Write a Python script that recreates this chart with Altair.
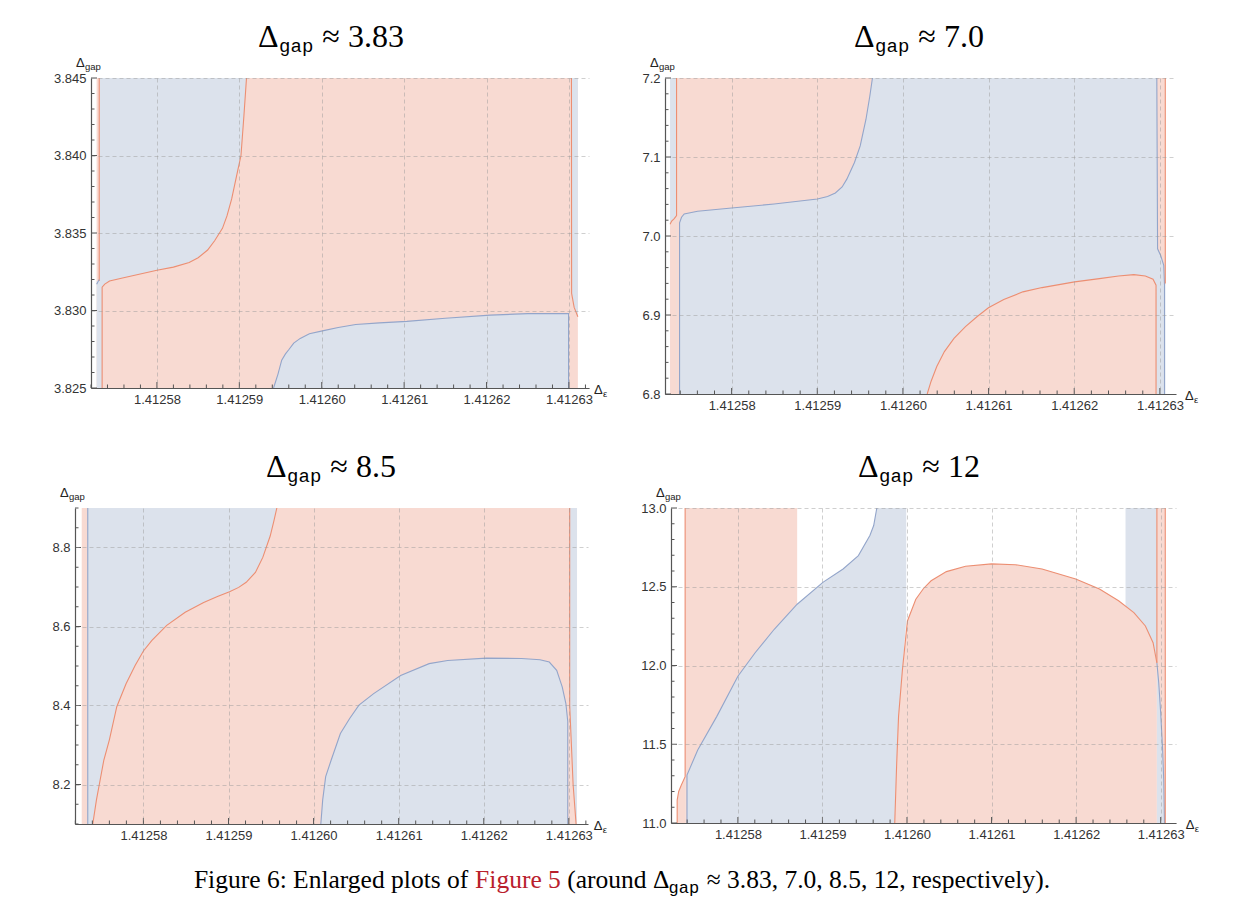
import math
import altair as alt
import pandas as pd

# ------------------------------------------------------------------
# x values are stored as offsets u:  x = 1.4125 + u * 1e-5
# ------------------------------------------------------------------
X_BASE = 1.4125
X_UNIT = 1e-5

RED_FILL = "#F8DAD2"
BLUE_FILL = "#DCE2EC"
RED_LINE = "#EC8E72"
BLUE_LINE = "#93A5CA"
AXIS_COL = "#555555"
LABEL_COL = "#333333"
GRID_COL = "#9a9a9a"
LINK_RED = "#B9202C"

X_TICKS = [1.41258, 1.41259, 1.41260, 1.41261, 1.41262, 1.41263]

# ---------------- Panel 1 : Δgap ≈ 3.83 ----------------
P1_TITLE = "3.83"
P1_XDOM = [7.200, 13.243]
P1_YDOM = [3.825, 3.845]
P1_YTICKS = [3.825, 3.830, 3.835, 3.840, 3.845]
P1_EDGE = [7.268, 13.108]
P1_UL_U = [7.300, 7.335, 7.367, 7.425, 7.582, 8.000, 8.200, 8.391, 8.500, 8.615, 8.700, 8.795, 8.850, 8.907, 8.975, 9.020, 9.056, 9.087]
P1_UL_Y = [3.8318, 3.8315, 3.8317, 3.8319, 3.8321, 3.8326, 3.8328, 3.8331, 3.8334, 3.8339, 3.8345, 3.8353, 3.8361, 3.8372, 3.8389, 3.8400, 3.8426, 3.8450]
P1_B_U = [9.415, 9.469, 9.514, 9.560, 9.604, 9.660, 9.739, 9.850, 10.022, 10.200, 10.412, 10.700, 11.032, 11.500, 12.043, 12.500, 12.995]
P1_B_Y = [3.8250, 3.8259, 3.8268, 3.8272, 3.8275, 3.8279, 3.8282, 3.8285, 3.8287, 3.8289, 3.8291, 3.8292, 3.8293, 3.8295, 3.8297, 3.8298, 3.8298]
P1_R_Y = [3.8296, 3.8302, 3.8311, 3.8450]
P1_R_U = [13.108, 13.063, 13.032, 13.030]
P1_STRIP_U = [7.268, 7.335]
P1_STRIP_Y = [3.825, 3.8319]

# ---------------- Panel 2 : Δgap ≈ 7.0 ----------------
P2_TITLE = "7.0"
P2_XDOM = [7.222, 13.188]
P2_YDOM = [6.8, 7.2]
P2_YTICKS = [6.8, 6.9, 7.0, 7.1, 7.2]
P2_EDGE = [7.281, 13.063]
P2_LL_U = [7.281, 7.300, 7.330, 7.357]
P2_LL_Y = [7.015, 7.019, 7.022, 7.026]
P2_LR_U = [7.357, 7.392]
P2_U_U = [7.392, 7.415, 7.446, 7.602, 8.000, 8.496, 9.001, 9.120, 9.211, 9.290, 9.345, 9.434, 9.501, 9.568, 9.613, 9.644]
P2_U_Y = [7.0166, 7.0237, 7.0279, 7.0313, 7.0355, 7.0405, 7.0468, 7.0500, 7.0544, 7.0620, 7.0720, 7.0930, 7.1140, 7.1475, 7.1769, 7.2000]
P2_D_U = [10.283, 10.328, 10.395, 10.484, 10.596, 10.730, 10.864, 10.998, 11.177, 11.400, 11.624, 12.004, 12.294, 12.517, 12.696, 12.830, 12.920, 12.955]
P2_D_Y = [6.8000, 6.8159, 6.8348, 6.8537, 6.8705, 6.8852, 6.8978, 6.9091, 6.9196, 6.9293, 6.9347, 6.9419, 6.9461, 6.9494, 6.9511, 6.9494, 6.9452, 6.9377]
P2_R_Y = [6.9377, 6.9629, 6.9754, 6.9838, 7.2000]
P2_R_U = [13.054, 13.045, 13.009, 12.973, 12.964]

# ---------------- Panel 3 : Δgap ≈ 8.5 ----------------
P3_TITLE = "8.5"
P3_XDOM = [7.196, 13.225]
P3_YDOM = [8.1, 8.9]
P3_YTICKS = [8.2, 8.4, 8.6, 8.8]
P3_EDGE = [7.275, 13.096]
P3_UL_U = [7.346, 7.405, 7.448, 7.492, 7.535, 7.600, 7.687, 7.796, 7.904, 8.000, 8.100, 8.274, 8.491, 8.708, 8.870, 9.012, 9.120, 9.208, 9.316, 9.403, 9.490, 9.533, 9.568]
P3_UL_Y = [8.100, 8.100, 8.161, 8.212, 8.262, 8.313, 8.397, 8.455, 8.502, 8.538, 8.565, 8.603, 8.636, 8.661, 8.676, 8.688, 8.699, 8.712, 8.737, 8.775, 8.829, 8.867, 8.900]
P3_B_U = [10.085, 10.107, 10.142, 10.207, 10.315, 10.424, 10.533, 10.706, 11.023, 11.358, 11.575, 12.031, 12.444, 12.661, 12.770, 12.857, 12.922, 12.965, 12.987]
P3_B_Y = [8.100, 8.161, 8.220, 8.262, 8.329, 8.367, 8.401, 8.430, 8.476, 8.506, 8.514, 8.520, 8.519, 8.516, 8.510, 8.489, 8.447, 8.405, 8.360]
P3_R_Y = [8.10, 8.20, 8.30, 8.40, 8.90]
P3_R_U = [13.085, 13.050, 13.030, 13.010, 13.010]

# ---------------- Panel 4 : Δgap ≈ 12 ----------------
P4_TITLE = "12"
P4_XDOM = [7.209, 13.181]
P4_YDOM = [11.0, 13.0]
P4_YTICKS = [11.0, 11.5, 12.0, 12.5, 13.0]
P4_LA_U = [7.282, 7.300, 7.330, 7.376]
P4_LA_Y = [11.145, 11.200, 11.240, 11.294]
P4_LB_U = [7.376, 7.398]
P4_RED_RECT_U = [7.398, 7.525, 7.751, 8.000, 8.204, 8.430, 8.701]
P4_RED_RECT_Y = [11.304, 11.464, 11.677, 11.932, 12.081, 12.230, 12.389]
P4_BL_U = [7.398, 7.525, 7.751, 8.000, 8.204, 8.430, 8.701, 9.005, 9.244, 9.425, 9.561, 9.606, 9.643, 9.855, 9.878, 9.900, 9.946, 9.991]
P4_BL_LO = [11.0, 11.0, 11.0, 11.0, 11.0, 11.0, 11.0, 11.0, 11.0, 11.0, 11.0, 11.0, 11.0, 11.0, 11.379, 11.677, 11.974, 12.283]
P4_BL_HI = [11.304, 11.464, 11.677, 11.932, 12.081, 12.230, 12.389, 12.528, 12.613, 12.698, 12.826, 12.889, 13.0, 13.0, 13.0, 13.0, 13.0, 13.0]
P4_DOME_U = [9.855, 9.878, 9.900, 9.946, 10.005, 10.104, 10.195, 10.285, 10.466, 10.692, 11.000, 11.281, 11.597, 11.995, 12.276, 12.502, 12.683, 12.819, 12.910, 12.955]
P4_DOME_Y = [11.000, 11.379, 11.677, 11.974, 12.283, 12.421, 12.489, 12.538, 12.596, 12.630, 12.645, 12.640, 12.613, 12.549, 12.485, 12.411, 12.336, 12.251, 12.145, 12.017]
P4_BS_U = [12.584, 12.683, 12.819, 12.910, 12.955]
P4_BS_Y = [12.377, 12.336, 12.251, 12.145, 12.017]
P4_RS_U = [12.955, 13.054]
P4_BC_Y = [11.000, 11.272, 11.464, 11.698, 11.889, 12.017]
P4_BC_U = [13.045, 13.036, 13.023, 13.000, 12.977, 12.955]

# caption pieces: (text, font, colour, gap after in em)
CAPTION = [
    ("Figure 6: Enlarged plots of", "serif", "black", 0.25),
    ("Figure 5", "serif", LINK_RED, 0.25),
    ("(around", "serif", "black", 0.25),
    ("\u0394", "serif", "black", 0.0),
    ("gap", "mono", "black", 0.3),
    ("\u2248 3.83, 7.0, 8.5, 12, respectively).", "serif", "black", 0.0),
]

# ------------------------------------------------------------------
SERIF = "Liberation Serif"
SANS = "Liberation Sans"
MONO = "Liberation Mono"

TIMES_W = {"F": .556, "i": .278, "g": .5, "u": .5, "r": .333, "e": .444, " ": .25, ":": .278,
           "E": .611, "n": .5, "l": .278, "a": .444, "d": .5, "p": .5, "o": .5, "t": .278,
           "s": .389, "f": .333, "(": .333, ")": .333, "\u0394": .612, "\u2248": .549, ".": .25,
           ",": .25, "c": .444, "v": .5, "y": .5}


def text_w(s, size, font):
    if font == "mono":
        return 0.6 * size * len(s)
    return sum(TIMES_W.get(ch, 0.5) for ch in s) * size


def xs(us):
    return [X_BASE + u * X_UNIT for u in us]


def arr(v, n):
    return list(v) if isinstance(v, (list, tuple)) else [v] * n


def grid_vals(lo, hi, step):
    n0 = math.ceil(lo / step - 1e-9)
    n1 = math.floor(hi / step + 1e-9)
    return [round(n * step, 6) for n in range(n0, n1 + 1)]


def build_panel(p):
    W, H = p["w"], p["h"]
    xdom = xs(p["xdom"])
    XE = alt.X("x:Q", scale=alt.Scale(domain=xdom, nice=False, zero=False),
               axis=alt.Axis(values=X_TICKS, format=".5f", grid=True, gridDash=[4, 3],
                             gridColor=GRID_COL, gridOpacity=0.6, gridWidth=0.8, ticks=False,
                             domainColor=AXIS_COL, domainWidth=1.2, labelFont=SANS,
                             labelFontSize=13, labelColor=LABEL_COL, labelPadding=5,
                             labelFlush=False, title=None, zindex=1))
    YE = alt.Y("y:Q", scale=alt.Scale(domain=p["ydom"], nice=False, zero=False),
               axis=alt.Axis(values=p["yticks"], format=p["yfmt"], grid=True, gridDash=[4, 3],
                             gridColor=GRID_COL, gridOpacity=0.6, gridWidth=0.8, ticks=False,
                             domainColor=AXIS_COL, domainWidth=1.2, labelFont=SANS,
                             labelFontSize=13, labelColor=LABEL_COL, labelPadding=5,
                             labelFlush=False, title=None, zindex=1))
    layers = []
    if p.get("bg"):
        e = p["edge"]
        df = pd.DataFrame({"x": [xs([e[0]])[0]], "x2": [xs([e[1]])[0]],
                           "y": [p["ydom"][0]], "y2": [p["ydom"][1]]})
        layers.append(alt.Chart(df).mark_rect(color=p["bg"]).encode(x=XE, x2="x2", y=YE, y2="y2"))
    for sh in p["shapes"]:
        kind, color = sh[0], sh[1]
        if kind == "rect":
            (u0, u1), (y0, y1) = sh[2], sh[3]
            df = pd.DataFrame({"x": xs([u0]), "x2": xs([u1]), "y": [y0], "y2": [y1]})
            layers.append(alt.Chart(df).mark_rect(color=color).encode(x=XE, x2="x2", y=YE, y2="y2"))
        elif kind == "v":
            u, lo, hi = sh[2], sh[3], sh[4]
            n = len(u)
            df = pd.DataFrame({"x": xs(u), "y": arr(lo, n), "y2": arr(hi, n)})
            layers.append(alt.Chart(df).mark_area(color=color, opacity=1, interpolate="linear")
                          .encode(x=XE, y=YE, y2="y2"))
        elif kind == "h":
            yv, lo, hi = sh[2], sh[3], sh[4]
            n = len(yv)
            df = pd.DataFrame({"y": yv, "x": xs(arr(lo, n)), "x2": xs(arr(hi, n))})
            layers.append(alt.Chart(df).mark_area(color=color, opacity=1, orient="horizontal",
                                                  interpolate="linear")
                          .encode(y=YE, x=XE, x2="x2"))
    for color, u, yv in p["lines"]:
        df = pd.DataFrame({"x": xs(u), "y": yv, "i": list(range(len(u)))})
        layers.append(alt.Chart(df).mark_line(color=color, strokeWidth=1.1)
                      .encode(x=XE, y=YE, order="i:Q"))

    # inward ticks (Mathematica style)
    ymaj = p["yticks"]
    ymin = [v for v in grid_vals(p["ydom"][0], p["ydom"][1], p["ystep"])
            if all(abs(v - m) > 1e-7 for m in ymaj)]
    xu_all = grid_vals(p["xdom"][0], p["xdom"][1], 0.2)
    xmaj = [u for u in xu_all if abs(u - round(u)) < 1e-6]
    xmin = [u for u in xu_all if abs(u - round(u)) >= 1e-6]
    for vals, ln in ((ymaj, 6), (ymin, 3.5)):
        df = pd.DataFrame({"y": vals})
        layers.append(alt.Chart(df).mark_rule(color=AXIS_COL, strokeWidth=1)
                      .encode(y=YE, x=alt.value(0), x2=alt.value(ln)))
    for vals, ln in ((xmaj, 6), (xmin, 3.5)):
        df = pd.DataFrame({"x": xs(vals)})
        layers.append(alt.Chart(df).mark_rule(color=AXIS_COL, strokeWidth=1)
                      .encode(x=XE, y=alt.value(H), y2=alt.value(H - ln)))

    def txt(t, x, y, font, size, color="black", align="left"):
        df = pd.DataFrame({"t": [t]})
        return alt.Chart(df).mark_text(font=font, fontSize=size, color=color, align=align,
                                       baseline="alphabetic").encode(
            x=alt.value(x), y=alt.value(y), text="t:N")

    # axis names
    last_tick_px = (13.0 - p["xdom"][0]) / (p["xdom"][1] - p["xdom"][0]) * W
    eps_x = max(W + 4, last_tick_px + 25)
    layers.append(txt("\u0394", -15, -11, SANS, 13, "#222"))
    layers.append(txt("gap", -6, -8, SANS, 9.5, "#222"))
    layers.append(txt("\u0394", eps_x, H + 6, SANS, 13, "#222"))
    layers.append(txt("\u03b5", eps_x + 9, H + 9, SANS, 9.5, "#222"))

    # title  Δ_gap ≈ value
    fs, fsub = 32, 19
    rest = "\u2248 " + p["title"]
    w_rest = text_w(rest, fs, "serif")
    w_gap = text_w("gap", fsub, "mono")
    d_off = 21
    total = d_off + w_gap + 9 + w_rest
    x0 = p["tc"] - total / 2
    ty = -31
    layers.append(txt("\u0394", x0, ty, SERIF, fs))
    layers.append(txt("gap", x0 + d_off, ty + 5, MONO, fsub))
    layers.append(txt(rest, x0 + d_off + w_gap + 9, ty, SERIF, fs))

    for extra in p.get("extra", []):
        layers.append(extra(txt))

    return alt.layer(*layers).properties(width=W, height=H)


def anchor(txt):
    df = pd.DataFrame({"t": [0]})
    return alt.Chart(df).mark_rule(color="white", strokeWidth=1).encode(
        x=alt.value(-82), x2=alt.value(-81), y=alt.value(-69), y2=alt.value(-68))


def caption_layers(txt):
    fs, fsub = 25.5, 17
    widths = []
    for s, f, c, g in CAPTION:
        widths.append(text_w(s, fsub if f == "mono" else fs, f) + g * fs)
    total = sum(widths)
    x = 547 - total / 2
    ch = []
    for (s, f, c, g), w in zip(CAPTION, widths):
        if f == "mono":
            ch.append(txt(s, x, 380 + 5, MONO, fsub, c))
        else:
            ch.append(txt(s, x, 380, SERIF, fs, c))
        x += w
    # keep room below the caption descenders
    df = pd.DataFrame({"t": [0]})
    ch.append(alt.Chart(df).mark_rule(color="white", strokeWidth=1).encode(
        x=alt.value(0), x2=alt.value(1), y=alt.value(398), y2=alt.value(399)))
    return alt.layer(*ch)


P1 = dict(w=498, h=310, xdom=P1_XDOM, ydom=P1_YDOM, yticks=P1_YTICKS, yfmt=".3f", ystep=0.001,
          edge=P1_EDGE, bg=RED_FILL, title=P1_TITLE, tc=240,
          shapes=[
              ("v", BLUE_FILL, P1_UL_U, P1_UL_Y, 3.845),
              ("rect", BLUE_FILL, P1_STRIP_U, P1_STRIP_Y),
              ("v", BLUE_FILL, P1_B_U, 3.825, P1_B_Y),
              ("h", BLUE_FILL, P1_R_Y, P1_R_U, P1_EDGE[1]),
          ],
          lines=[
              (RED_LINE, [7.300, 7.300], [3.845, 3.8319]),
              (RED_LINE, [7.335] + P1_UL_U[1:], [3.825] + P1_UL_Y[1:]),
              (BLUE_LINE, P1_B_U + [12.995], P1_B_Y + [3.825]),
              (RED_LINE, P1_R_U[::-1], P1_R_Y[::-1]),
              (BLUE_LINE, [7.268, 7.300], [3.8317, 3.8320]),
          ],
          extra=[anchor])

P2 = dict(w=511, h=316, xdom=P2_XDOM, ydom=P2_YDOM, yticks=P2_YTICKS, yfmt=".1f", ystep=0.02,
          edge=P2_EDGE, bg=BLUE_FILL, title=P2_TITLE, tc=254,
          shapes=[
              ("v", RED_FILL, P2_LL_U, 6.8, P2_LL_Y),
              ("rect", RED_FILL, P2_LR_U, (6.8, 7.2)),
              ("v", RED_FILL, P2_U_U, P2_U_Y, 7.2),
              ("v", RED_FILL, P2_D_U, 6.8, P2_D_Y),
              ("h", RED_FILL, P2_R_Y, P2_R_U, P2_EDGE[1]),
          ],
          lines=[
              (RED_LINE, [7.357] + P2_LL_U[::-1], [7.2] + P2_LL_Y[::-1]),
              (BLUE_LINE, [7.392] + P2_U_U, [6.8] + P2_U_Y),
              (RED_LINE, P2_D_U + [12.955], P2_D_Y + [6.8]),
              (BLUE_LINE, P2_R_U[::-1] + [13.054], P2_R_Y[::-1] + [6.8]),
              (RED_LINE, [13.063, 13.063], [7.2, 6.94]),
          ])

P3 = dict(w=513, h=316, xdom=P3_XDOM, ydom=P3_YDOM, yticks=P3_YTICKS, yfmt=".1f", ystep=0.05,
          edge=P3_EDGE, bg=RED_FILL, title=P3_TITLE, tc=256,
          shapes=[
              ("v", BLUE_FILL, P3_UL_U, P3_UL_Y, 8.9),
              ("v", BLUE_FILL, P3_B_U, 8.1, P3_B_Y),
              ("h", BLUE_FILL, P3_R_Y, P3_R_U, P3_EDGE[1]),
          ],
          lines=[
              (BLUE_LINE, [7.346, 7.346], [8.9, 8.1]),
              (RED_LINE, P3_UL_U[1:], P3_UL_Y[1:]),
              (BLUE_LINE, P3_B_U + [12.987], P3_B_Y + [8.1]),
              (RED_LINE, P3_R_U[::-1], P3_R_Y[::-1]),
          ],
          extra=[caption_layers])

P4 = dict(w=505, h=315, xdom=P4_XDOM, ydom=P4_YDOM, yticks=P4_YTICKS, yfmt=".1f", ystep=0.1,
          edge=None, bg=None, title=P4_TITLE, tc=248,
          shapes=[
              ("v", RED_FILL, P4_LA_U, 11.0, P4_LA_Y),
              ("rect", RED_FILL, P4_LB_U, (11.0, 13.0)),
              ("v", RED_FILL, P4_RED_RECT_U, P4_RED_RECT_Y, 13.0),
              ("v", BLUE_FILL, P4_BL_U, P4_BL_LO, P4_BL_HI),
              ("v", RED_FILL, P4_DOME_U, 11.0, P4_DOME_Y),
              ("v", BLUE_FILL, P4_BS_U, P4_BS_Y, 13.0),
              ("rect", RED_FILL, P4_RS_U, (11.0, 13.0)),
              ("h", BLUE_FILL, P4_BC_Y, P4_RS_U[0], P4_BC_U),
          ],
          lines=[
              (RED_LINE, [7.282] + P4_LA_U + [7.376], [11.0] + P4_LA_Y + [13.0]),
              (BLUE_LINE, [7.398] + P4_BL_U[:13], [11.0] + P4_BL_HI[:13]),
              (RED_LINE, P4_DOME_U, P4_DOME_Y),
              (BLUE_LINE, P4_BC_U[::-1], P4_BC_Y[::-1]),
              (RED_LINE, [12.955, 12.955], [13.0, 12.017]),
              (RED_LINE, [13.054, 13.054], [11.0, 13.0]),
          ])


def spacer(w, h):
    df = pd.DataFrame({"a": [0]})
    return alt.Chart(df).mark_point(opacity=0).properties(width=w, height=h)


p1 = build_panel(P1)
p2 = build_panel(P2)
p3 = build_panel(P3)
p4 = build_panel(P4)

row1 = alt.hconcat(spacer(16, 316), p1, spacer(76, 316), p2, spacing=0, bounds="flush")
row2 = alt.hconcat(p3, spacer(83, 316), p4, spacing=0, bounds="flush")
chart = (alt.vconcat(row1, row2, spacing=430, bounds="flush")
         .properties(padding=0, background="white")
         .configure_view(stroke=None))

chart.save("out.html", embed_options={"renderer": "svg", "actions": False})
